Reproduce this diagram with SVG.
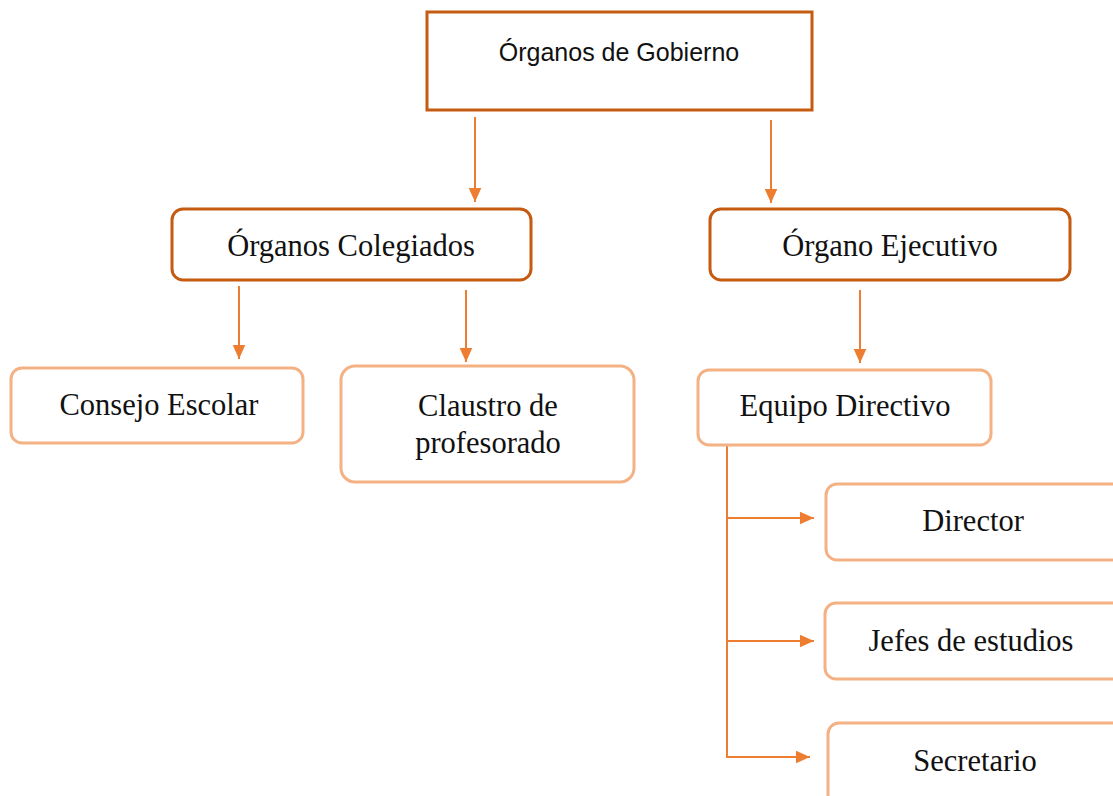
<svg xmlns="http://www.w3.org/2000/svg" width="1113" height="796" viewBox="0 0 1113 796">
<style>
.dark{fill:#fff;stroke:#C55A11;stroke-width:3}
.light{fill:#fff;stroke:#F4B183;stroke-width:3}
.serif{font-family:"Liberation Serif","Times New Roman",serif;font-size:30.5px;fill:#111;text-anchor:middle}
.sans{font-family:"Liberation Sans",Arial,sans-serif;font-size:25px;fill:#111;text-anchor:middle}
.conn{stroke:#ED7D31;stroke-width:2;fill:none}
</style>
<defs>
<marker id="ah" viewBox="0 0 10 10" refX="10" refY="5" markerWidth="14" markerHeight="14" markerUnits="userSpaceOnUse" orient="auto">
<path d="M0,0.5 L10,5 L0,9.5 z" fill="#ED7D31"/>
</marker>
</defs>
<g id="connectors">
<line class="conn" x1="475" y1="117" x2="475" y2="202" marker-end="url(#ah)"/>
<line class="conn" x1="771" y1="120" x2="771" y2="203" marker-end="url(#ah)"/>
<line class="conn" x1="239" y1="286" x2="239" y2="359" marker-end="url(#ah)"/>
<line class="conn" x1="466" y1="290" x2="466" y2="362" marker-end="url(#ah)"/>
<line class="conn" x1="860" y1="290" x2="860" y2="363" marker-end="url(#ah)"/>
<polyline class="conn" points="727,446 727,757 810,757" marker-end="url(#ah)"/>
<line class="conn" x1="727" y1="518" x2="814" y2="518" marker-end="url(#ah)"/>
<line class="conn" x1="727" y1="641" x2="814" y2="641" marker-end="url(#ah)"/>
</g>
<g id="organos-gobierno">
<rect class="dark" x="427" y="12" width="385" height="98"/>
<text class="sans" x="619" y="61">Órganos de Gobierno</text>
</g>
<g id="organos-colegiados">
<rect class="dark" x="172" y="209" width="359" height="71" rx="11"/>
<text class="serif" x="351" y="256">Órganos Colegiados</text>
</g>
<g id="organo-ejecutivo">
<rect class="dark" x="710" y="209" width="360" height="71" rx="11"/>
<text class="serif" x="890" y="256">Órgano Ejecutivo</text>
</g>
<g id="consejo-escolar">
<rect class="light" x="11" y="368" width="292" height="75" rx="11"/>
<text class="serif" x="159" y="415">Consejo Escolar</text>
</g>
<g id="claustro">
<rect class="light" x="341" y="366" width="293" height="116" rx="14"/>
<text class="serif" x="488" y="416">Claustro de</text>
<text class="serif" x="488" y="453">profesorado</text>
</g>
<g id="equipo-directivo">
<rect class="light" x="698" y="370" width="293" height="75" rx="11"/>
<text class="serif" x="845" y="416">Equipo Directivo</text>
</g>
<g id="director">
<rect class="light" x="826" y="484" width="300" height="76" rx="11"/>
<text class="serif" x="973" y="531">Director</text>
</g>
<g id="jefes">
<rect class="light" x="825" y="603" width="300" height="76" rx="11"/>
<text class="serif" x="971" y="651">Jefes de estudios</text>
</g>
<g id="secretario">
<rect class="light" x="828" y="723" width="300" height="90" rx="11"/>
<text class="serif" x="975" y="771">Secretario</text>
</g>
</svg>
